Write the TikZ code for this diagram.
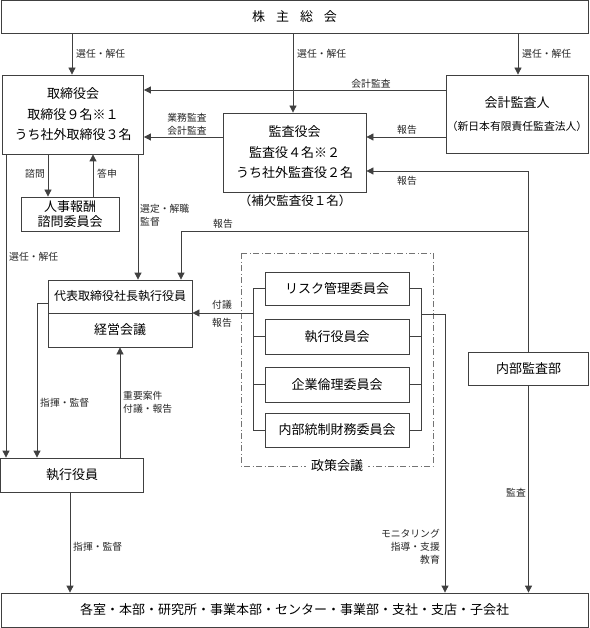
\documentclass[tikz,border=0pt]{standalone}
\usepackage{fontspec}
\newfontfamily\jp{Noto Sans CJK JP}
\usetikzlibrary{arrows.meta}
\begin{document}
\begin{tikzpicture}[x=1pt,y=-1pt,
 box/.style={draw=black!75, line width=0.8pt, fill=white, inner sep=0pt, align=center, font=\jp\fontsize{13}{20.5}\selectfont},
 lbl/.style={font=\jp\fontsize{9.8}{12.8}\selectfont, inner sep=0pt, text=black!85},
 conn/.style={draw=black!75, line width=0.8pt},
 arr/.style={conn, -{Triangle[width=7pt,length=7pt]}},
 dashdotbox/.style={draw=black!55, line width=0.8pt, dash pattern=on 6pt off 2.5pt on 1pt off 2.5pt},
]
\useasboundingbox (0,0) rectangle (589,628);

% helper coordinates (columns / rows)
\coordinate (x6) at (6,0);
\coordinate (x37) at (37,0);
\coordinate (x48) at (48,0);
\coordinate (x70) at (70,0);
\coordinate (x72) at (72,0);
\coordinate (x93) at (93,0);
\coordinate (x138) at (138,0);
\coordinate (x181) at (181,0);
\coordinate (x253) at (253,0);
\coordinate (x293) at (293,0);
\coordinate (x421) at (421,0);
\coordinate (x445) at (445,0);
\coordinate (x518) at (518,0);
\coordinate (y90) at (0,90);
\coordinate (y137) at (0,137);
\coordinate (y171) at (0,171);
\coordinate (y231) at (0,231);
\coordinate (y303) at (0,303);
\coordinate (y313) at (0,313);
\coordinate (y314) at (0,314);

% boxes
\node[box, minimum width=587pt, minimum height=32.5pt] (agm) at (294.5,16.75) {株\hspace{11pt}主\hspace{11pt}総\hspace{11pt}会};
\node[box, minimum width=141pt, minimum height=79pt] (board) at (73,114.5) {取締役会\\取締役９名※１\\うち社外取締役３名};
\node[box, minimum width=142pt, minimum height=78pt] (auditor) at (517,114) {会計監査人\\[2pt]{\fontsize{10.8}{13}\selectfont （新日本有限責任監査法人）}};
\node[box, minimum width=143pt, minimum height=79pt] (kansa) at (294.5,152.5) {監査役会\\監査役４名※２\\うち社外監査役２名};
\node[box, minimum width=98pt, minimum height=34pt, font=\jp\fontsize{13}{15}\selectfont] (jinji) at (70,214) {人事報酬\\諮問委員会};
\node[box, minimum width=144pt, minimum height=33pt, font=\jp\fontsize{12}{14}\selectfont] (rep) at (120,296.5) {代表取締役社長執行役員};
\node[box, minimum width=144pt, minimum height=34pt] (keiei) at (120,330) {経営会議};

\draw[dashdotbox] (241,253) rectangle (433,466);
\node[fill=white, inner xsep=5pt, inner ysep=1pt, font=\jp\fontsize{13}{15}\selectfont] (seisaku) at (337,466) {政策会議};

\node[box, minimum width=144pt, minimum height=33pt] (c1) at (337,288.5) {リスク管理委員会};
\node[box, minimum width=144pt, minimum height=35pt] (c2) at (337,336.5) {執行役員会};
\node[box, minimum width=144pt, minimum height=35pt] (c3) at (337,384.5) {企業倫理委員会};
\node[box, minimum width=144pt, minimum height=34pt] (c4) at (337,430) {内部統制財務委員会};

\node[box, minimum width=120pt, minimum height=33pt] (naibu) at (528.5,368.5) {内部監査部};
\node[box, minimum width=143pt, minimum height=34pt] (shikko) at (72,475) {執行役員};
\node[box, minimum width=587pt, minimum height=34pt] (kaku) at (294.5,610) {各室・本部・研究所・事業本部・センター・事業部・支社・支店・子会社};

\node[font=\jp\fontsize{12.5}{14}\selectfont, inner sep=0pt] (hoketsu) at (295,201) {（補欠監査役１名）};

% connectors
\draw[arr] (agm.south -| x72) -- (board.north -| x72);
\draw[arr] (agm.south -| x293) -- (kansa.north -| x293);
\draw[arr] (agm.south -| x518) -- (auditor.north -| x518);
\draw[arr] (auditor.west |- y90) -- (board.east |- y90);
\draw[arr] (kansa.west |- y137) -- (board.east |- y137);
\draw[arr] (auditor.west |- y137) -- (kansa.east |- y137);
\draw[arr] (naibu.north) -- (naibu.north |- y171) -- (kansa.east |- y171);
\draw[arr] (naibu.north |- y231) -- (x181 |- y231) -- (rep.north -| x181);
\draw[arr] (board.south -| x48) -- (jinji.north -| x48);
\draw[arr] (jinji.north -| x93) -- (board.south -| x93);
\draw[arr] (board.south -| x138) -- (rep.north -| x138);
\draw[arr] (board.south -| x6) -- (shikko.north -| x6);
\draw[arr] (rep.west |- y303) -- (x37 |- y303) -- (shikko.north -| x37);
\draw[arr] (shikko.north -| keiei.south) -- (keiei.south);

\draw[conn] (c1.west) -- (c1.west -| x253) -- (c4.west -| x253) -- (c4.west);
\draw[conn] (c2.west) -- (c2.west -| x253);
\draw[conn] (c3.west) -- (c3.west -| x253);
\draw[arr] (x253 |- y313) -- (rep.east |- y313);

\draw[conn] (c1.east) -- (c1.east -| x421) -- (c4.east -| x421) -- (c4.east);
\draw[conn] (c2.east) -- (c2.east -| x421);
\draw[conn] (c3.east) -- (c3.east -| x421);
\draw[arr] (x421 |- y314) -- (x445 |- y314) -- (kaku.north -| x445);

\draw[arr] (naibu.south) -- (kaku.north -| naibu.south);
\draw[arr] (shikko.south -| x70) -- (kaku.north -| x70);

% labels
\node[lbl, anchor=west] (l1) at (76,54) {選任・解任};
\node[lbl, anchor=west] (l2) at (297,54) {選任・解任};
\node[lbl, anchor=west] (l3) at (522,54) {選任・解任};
\node[lbl] (l4) at (371,84) {会計監査};
\node[lbl, align=center] (l5) at (187,124) {業務監査\\会計監査};
\node[lbl] (l6) at (407,130) {報告};
\node[lbl] (l7) at (407,181) {報告};
\node[lbl] (l8) at (223,224) {報告};
\node[lbl] (l9) at (35,174) {諮問};
\node[lbl] (l10) at (107,174) {答申};
\node[lbl, anchor=west, align=left] (l11) at (140,215.5) {選定・解職\\監督};
\node[lbl, anchor=west] (l12) at (9,257) {選任・解任};
\node[lbl, anchor=west] (l13) at (40,403) {指揮・監督};
\node[lbl, anchor=west, align=left] (l14) at (123,402) {重要案件\\付議・報告};
\node[lbl] (l15) at (222,305) {付議};
\node[lbl] (l16) at (222,323) {報告};
\node[lbl, anchor=east, align=right] (l17) at (440,547) {モニタリング\\指導・支援\\教育};
\node[lbl, anchor=east] (l18) at (526,493) {監査};
\node[lbl, anchor=west] (l19) at (73,547) {指揮・監督};
\end{tikzpicture}
\end{document}
